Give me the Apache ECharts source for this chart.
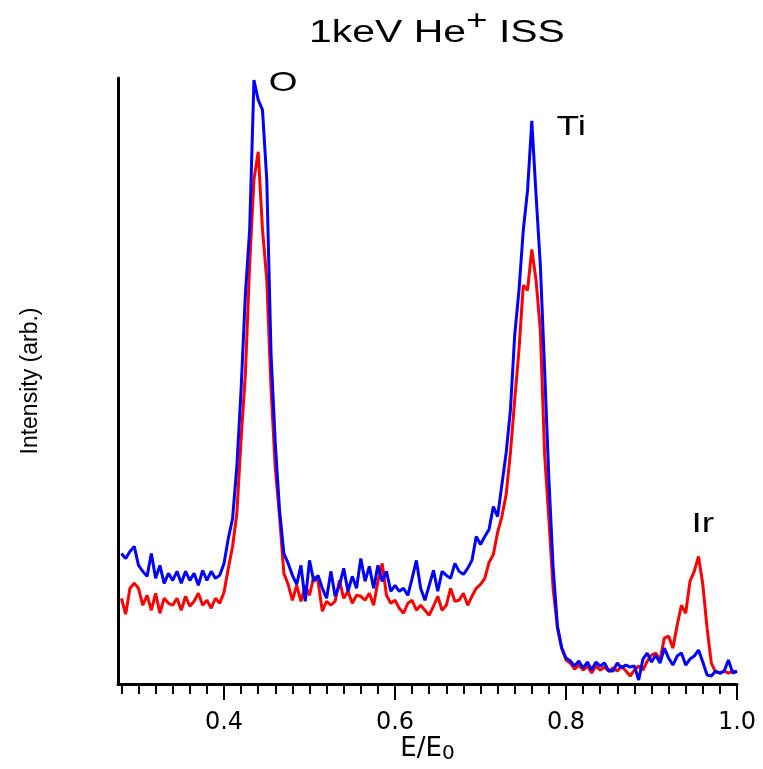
<!DOCTYPE html>
<html>
<head>
<meta charset="utf-8">
<title>1keV He+ ISS</title>
<script src="https://cdn.jsdelivr.net/npm/echarts@6/dist/echarts.min.js"></script>
<style>
  html, body { margin: 0; padding: 0; background: #fff; }
  #chart { width: 763px; height: 769px; }
</style>
</head>
<body>
<div id="chart"></div>
<script>
  // sampling grid on E/E0
  const xStart = 0.28;
  const xStep = 0.005;

  // intensity (arb.), one value per grid step
  const blueData = [
    131, 126, 133, 138, 119, 113, 108, 131, 106, 119,
    101, 111, 104, 113, 101, 113, 104, 111, 99, 114,
    104, 113, 106, 109, 121, 146, 166, 218, 296, 391,
    456, 606, 586, 576, 506, 331, 241, 174, 131, 121,
    109,
    100, 119, 83, 124, 103, 109, 96, 86, 113, 88,
    99, 116, 93, 108, 96, 126, 103, 118, 96, 119,
    103, 113, 93, 99, 93, 96, 89, 106, 124, 96,
    84, 99, 114, 93, 113, 109, 106, 121, 113, 110,
    116, 124, 148, 140, 148, 155, 178, 168, 200, 232,
    275, 350, 395, 455, 495, 565, 490, 420, 315, 205,
    116, 58, 36, 26,
    23, 18, 23, 16, 22, 14, 22, 18, 21, 13,
    13, 21, 16, 19, 17, 18, 4, 25, 31, 22,
    29, 21, 36, 26, 19, 28, 31, 19, 25, 28,
    34, 22, 9, 8, 13, 11, 13, 24, 11, 13
  ];
  const redData = [
    86, 70, 96, 101, 96, 79, 89, 74, 91, 71,
    86, 81, 79, 86, 74, 88, 78, 83, 91, 79,
    84, 76, 86, 81, 92, 116, 138, 171, 246, 311,
    421, 506, 534, 456, 406, 296, 216, 168, 111, 100,
    84,
    99, 83, 99, 89, 108, 103, 73, 83, 79, 83,
    104, 86, 93, 81, 89, 88, 84, 91, 79, 103,
    121, 89, 81, 84, 76, 71, 81, 84, 74, 79,
    74, 69, 78, 88, 74, 79, 96, 83, 84, 91,
    79, 88, 96, 100, 106, 122, 130, 152, 168, 190,
    232, 285, 335, 400, 395, 436, 405, 355, 230, 165,
    95, 56, 36, 24,
    21, 15, 19, 14, 18, 11, 18, 14, 17, 13,
    16, 13, 18, 13, 8, 14, 18, 14, 23, 29,
    31, 24, 46, 48, 36, 59, 79, 71, 103, 113,
    128, 100, 56, 21, 12, 11, 13, 11, 13, 12
  ];

  const minorTicks = [0.28, 0.30, 0.32, 0.34, 0.36, 0.38, 0.40, 0.42, 0.44, 0.46,
    0.48, 0.50, 0.52, 0.54, 0.56, 0.58, 0.60, 0.62, 0.64, 0.66, 0.68, 0.70,
    0.72, 0.74, 0.76, 0.78, 0.80, 0.82, 0.84, 0.86, 0.88, 0.90, 0.92, 0.94,
    0.96, 0.98, 1.00];
  const majorTicks = [0.4, 0.6, 0.8, 1.0];

  // peak labels
  const peakNames = ['O', 'Ti', 'Ir'];
  const peakPos = [[0.469, 603], [0.806, 559], [0.96, 160]];

  const energy = blueData.map((v, i) => +(xStart + i * xStep).toFixed(3));

  const chart = echarts.init(document.getElementById('chart'));
  const font = 'DejaVu Sans';
  const stretch = 1.32; // the source text is drawn wide

  chart.setOption({
    animation: false,
    grid: { left: 118, right: 26, top: 78, bottom: 83 },
    xAxis: [{
      type: 'value',
      min: 0.276,
      max: 1.0,
      axisLine: { lineStyle: { color: '#000', width: 3 } },
      axisTick: { customValues: minorTicks, length: 10, lineStyle: { color: '#000', width: 2 } },
      axisLabel: { show: false },
      splitLine: { show: false },
      name: 'E/E{s|0}',
      nameLocation: 'middle',
      nameGap: 50,
      nameTextStyle: {
        fontFamily: font,
        fontSize: 26,
        color: '#000',
        lineHeight: 30,
        rich: {
          s: { fontFamily: font, fontSize: 20, lineHeight: 20, verticalAlign: 'bottom', color: '#000' }
        }
      }
    }, {
      type: 'value',
      position: 'bottom',
      min: 0.276,
      max: 1.0,
      axisLine: { show: false },
      axisTick: { customValues: majorTicks, length: 16, lineStyle: { color: '#000', width: 2 } },
      axisLabel: {
        customValues: majorTicks,
        formatter: v => v.toFixed(1),
        margin: 27,
        fontFamily: font,
        fontSize: 24,
        color: '#000'
      },
      splitLine: { show: false }
    }],
    yAxis: {
      type: 'value',
      min: 0,
      max: 608,
      axisLine: { show: true, lineStyle: { color: '#000', width: 3 } },
      axisTick: { show: false },
      axisLabel: { show: false },
      splitLine: { show: false },
      name: 'Intensity (arb.)',
      nameLocation: 'middle',
      nameGap: 76,
      nameRotate: 90,
      nameTextStyle: { fontFamily: 'Liberation Sans', fontSize: 23, color: '#000' }
    },
    series: [{
      name: 'red',
      type: 'line',
      showSymbol: false,
      data: energy.map((x, i) => [x, redData[i]]),
      lineStyle: { color: '#ff0000', width: 3 },
      itemStyle: { color: '#ff0000' }
    }, {
      name: 'blue',
      type: 'line',
      showSymbol: false,
      data: energy.map((x, i) => [x, blueData[i]]),
      lineStyle: { color: '#0000ff', width: 3 },
      itemStyle: { color: '#0000ff' }
    }]
  });

  // title and peak names, stretched horizontally like the source
  const graphics = [{
    type: 'text',
    x: 309,
    y: 7,
    scaleX: stretch,
    style: {
      text: '{m|1keV He}{sup|+}{m| ISS}',
      align: 'left',
      verticalAlign: 'top',
      fill: '#000',
      rich: {
        m: { fontFamily: 'Liberation Sans', fontSize: 31, lineHeight: 52, fill: '#000' },
        sup: { fontFamily: 'Liberation Sans', fontSize: 28, lineHeight: 18, verticalAlign: 'top', fill: '#000' }
      }
    }
  }];
  peakPos.forEach((pos, i) => {
    const px = chart.convertToPixel({ seriesIndex: 1 }, pos);
    graphics.push({
      type: 'text',
      x: px[0],
      y: px[1],
      scaleX: stretch,
      style: {
        text: peakNames[i],
        align: 'center',
        verticalAlign: 'middle',
        fontFamily: 'Liberation Sans',
        fontSize: 28,
        fill: '#000'
      }
    });
  });
  chart.setOption({ graphic: graphics });
</script>
</body>
</html>
